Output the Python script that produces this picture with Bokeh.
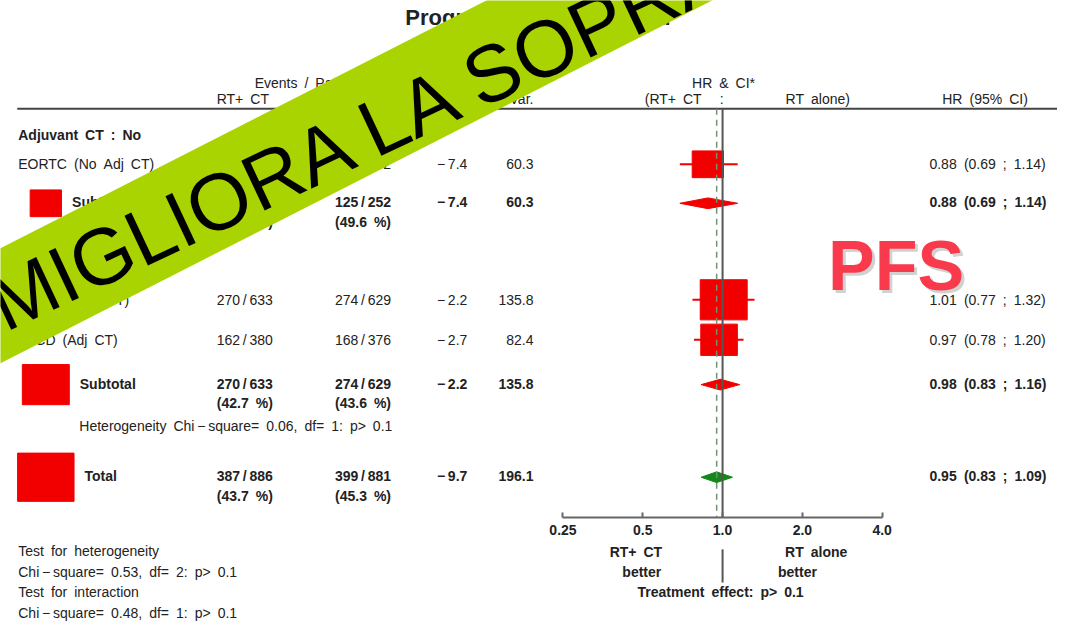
import math
from bokeh.plotting import figure
from bokeh.models import (ColumnDataSource, Range1d, LogScale, LogAxis, FixedTicker,
                          CustomJSTickFormatter)
from bokeh.core.properties import value
from bokeh.embed import file_html
from bokeh.resources import INLINE

# ---------------- data ----------------
title = "Progression-free survival"
group_labels = ["Adjuvant CT : No", "Adjuvant CT : Yes"]
row_labels = ["EORTC (No Adj CT)", "Subtotal", "EORTC (Adj CT)", "FFCD (Adj CT)", "Subtotal", "Total"]
row_kind = ["trial", "sub", "trial", "trial", "sub", "total"]
events_ct = [117, 117, 270, 162, 270, 387]
patients_ct = [253, 253, 633, 380, 633, 886]
events_rt = [125, 125, 274, 168, 274, 399]
patients_rt = [252, 252, 629, 376, 629, 881]
o_minus_e = [-7.4, -7.4, -2.2, -2.7, -2.2, -9.7]
variance = [60.3, 60.3, 135.8, 82.4, 135.8, 196.1]
hr = [0.88, 0.88, 1.01, 0.97, 0.98, 0.95]
ci_low = [0.69, 0.69, 0.77, 0.78, 0.83, 0.83]
ci_high = [1.14, 1.14, 1.32, 1.20, 1.16, 1.09]
hr_ticks = [0.25, 0.5, 1.0, 2.0, 4.0]
col_headers = ["Events / Patients", "RT+ CT", "RT alone", "O\u2212E", "Var."]
forest_headers = ["HR & CI*", "(RT+ CT", ":", "RT alone)", "HR (95% CI)"]
heterogeneity_sub = "Heterogeneity Chi\u2009\u2212\u2009square= 0.06, df= 1: p> 0.1"
footer_lines = ["Test for heterogeneity", "Chi\u2009\u2212\u2009square= 0.53, df= 2: p> 0.1",
                "Test for interaction", "Chi\u2009\u2212\u2009square= 0.48, df= 1: p> 0.1"]
better_left = ["RT+ CT", "better"]
better_right = ["RT alone", "better"]
treatment_effect = "Treatment effect: p> 0.1"
banner_text = "MIGLIORA LA SOPRAVVIVENZA"
stamp_text = "PFS"

# ---------------- layout (reference pixel space) ----------------
W_REF, H_REF = 1073, 638
FONT = "Liberation Sans"
FS = "14px"
TXT = "#222222"
RED = "#f20000"
GREEN = "#15861a"
ROW_Y = [168, 207, 307, 348, 393, 488]
GROUP_Y = [138, 277]
PCT_DY = 20
X_LABEL, X_CT, X_RT, X_OE, X_VAR, X_HR, X_CI = 18, 248, 368, 443, 541, 943, 978
HR1_X, PX_PER_DOUBLING = 733, 81.0
HEADER_Y1, HEADER_Y2, LINE_Y, AXIS_Y = 85, 101, 111, 530
SQ_X = 46

p = figure(width=1057, height=622, x_range=Range1d(0, W_REF), y_range=Range1d(H_REF, 0),
           x_axis_location=None, y_axis_location=None, output_backend="svg",
           toolbar_location=None, min_border=0, outline_line_color=None,
           background_fill_color="white", border_fill_color="white")
p.grid.grid_line_color = None

p.extra_x_ranges = {"hr": Range1d(2 ** ((0 - HR1_X) / PX_PER_DOUBLING),
                                  2 ** ((W_REF - HR1_X) / PX_PER_DOUBLING))}
p.extra_x_scales = {"hr": LogScale()}


def wide(s):
    # the reference typesetting uses wide word spaces
    return s.replace(" ", "\u2002")


def add_text(xs, ys, texts, align="left", bold=False, size=FS, color=TXT,
             baseline="middle", angle=0.0, alpha=1.0, font=FONT):
    src = ColumnDataSource(dict(x=list(xs), y=list(ys), text=list(texts)))
    p.text("x", "y", "text", source=src, text_align=align, text_baseline=baseline,
           text_font=value(font), text_font_size=size,
           text_font_style="bold" if bold else "normal", text_color=color,
           text_alpha=alpha, angle=angle)


# title
add_text([411], [17], [title], bold=True, size="22px")

# column headers
add_text([258], [HEADER_Y1], [wide(col_headers[0])])
add_text([X_CT - 2, X_RT], [HEADER_Y2] * 2, [wide(t) for t in col_headers[1:3]], align="center")
add_text([458], [HEADER_Y2], [col_headers[3]], align="center")
add_text([X_VAR], [HEADER_Y2], [col_headers[4]], align="right")
add_text([734], [HEADER_Y1], [wide(forest_headers[0])], align="center")
add_text([654], [HEADER_Y2], [wide(forest_headers[1])])
add_text([732], [HEADER_Y2], [forest_headers[2]], align="center")
add_text([797], [HEADER_Y2], [wide(forest_headers[3])])
add_text([956], [HEADER_Y2], [wide(forest_headers[4])])
p.segment(x0=[17], x1=[W_REF], y0=[LINE_Y], y1=[LINE_Y], line_color="#444444", line_width=2)

# group headers
add_text([X_LABEL] * 2, GROUP_Y, [wide(g) for g in group_labels], bold=True)

# rows
sq_w = [4.03 * math.sqrt(v) for v in variance]
sq_h = [w / 1.17 for w in sq_w]
for i, kind in enumerate(row_kind):
    y = ROW_Y[i]
    bold = kind != "trial"
    if kind == "trial":
        add_text([X_LABEL], [y], [wide(row_labels[i])])
    else:
        add_text([SQ_X + sq_w[i] / 2 + 11], [y], [row_labels[i]], bold=True)
        add_text([X_CT, X_RT], [y + PCT_DY] * 2,
                 [f"({100 * events_ct[i] / patients_ct[i]:.1f}\u2002%)",
                  f"({100 * events_rt[i] / patients_rt[i]:.1f}\u2002%)"], align="center", bold=True)
    add_text([X_CT, X_RT], [y, y],
             [f"{events_ct[i]}\u2009/\u2009{patients_ct[i]}",
              f"{events_rt[i]}\u2009/\u2009{patients_rt[i]}"],
             align="center", bold=bold)
    add_text([X_OE], [y], [f"{o_minus_e[i]:.1f}".replace("-", "\u2212\u2009")], bold=bold)
    add_text([X_VAR], [y], [f"{variance[i]:.1f}"], align="right", bold=bold)
    add_text([X_HR], [y], [f"{hr[i]:.2f}"], bold=bold)
    add_text([X_CI], [y], [wide(f"({ci_low[i]:.2f} ; {ci_high[i]:.2f})")], bold=bold)

add_text([80], [ROW_Y[4] + 43], [wide(heterogeneity_sub)])

# left-hand weight squares for subtotal/total rows
idx_sum = [i for i, k in enumerate(row_kind) if k != "trial"]
p.rect(x=[SQ_X] * len(idx_sum), y=[ROW_Y[i] + 1 for i in idx_sum],
       width=[sq_w[i] for i in idx_sum], height=[sq_h[i] for i in idx_sum],
       width_units="screen", height_units="screen", fill_color=RED, line_color=RED)

# forest: trial CIs and squares
idx_tr = [i for i, k in enumerate(row_kind) if k == "trial"]
p.segment(x0=[ci_low[i] for i in idx_tr], x1=[ci_high[i] for i in idx_tr],
          y0=[ROW_Y[i] for i in idx_tr], y1=[ROW_Y[i] for i in idx_tr],
          line_color=RED, line_width=2, x_range_name="hr")
p.rect(x=[hr[i] for i in idx_tr], y=[ROW_Y[i] for i in idx_tr],
       width=[sq_w[i] for i in idx_tr], height=[sq_h[i] for i in idx_tr],
       width_units="screen", height_units="screen", fill_color=RED, line_color=RED,
       x_range_name="hr")

# diamonds
for i in idx_sum:
    y = ROW_Y[i] + 1
    col = GREEN if row_kind[i] == "total" else RED
    p.patch(x=[ci_low[i], hr[i], ci_high[i], hr[i]], y=[y, y - 5.5, y, y + 5.5],
            fill_color=col, line_color=col, x_range_name="hr")

# reference lines
p.segment(x0=[1.0], x1=[1.0], y0=[LINE_Y], y1=[AXIS_Y], line_color="#555555",
          line_width=2, x_range_name="hr")
p.segment(x0=[hr[-1]], x1=[hr[-1]], y0=[LINE_Y], y1=[AXIS_Y], line_color="#6f9475",
          line_width=1.5, line_dash="6 5", x_range_name="hr")

# HR axis
ax = LogAxis(x_range_name="hr", fixed_location=AXIS_Y, bounds=(hr_ticks[0], hr_ticks[-1]),
             ticker=FixedTicker(ticks=hr_ticks, minor_ticks=[]),
             formatter=CustomJSTickFormatter(code="return tick < 0.3 ? tick.toFixed(2) : tick.toFixed(1);"))
ax.axis_line_color = "#666666"
ax.axis_line_width = 2
ax.major_tick_in = 5
ax.major_tick_out = 0
ax.major_tick_line_color = "#666666"
ax.major_tick_line_width = 2
ax.minor_tick_line_color = None
ax.major_label_text_font = FONT
ax.major_label_text_font_size = FS
ax.major_label_text_font_style = "bold"
ax.major_label_text_color = TXT
ax.major_label_standoff = 8
p.add_layout(ax, "below")

# below axis annotations
add_text([645, 651], [566, 586], [wide(t) for t in better_left], align="center", bold=True)
add_text([828, 809], [566, 586], [wide(t) for t in better_right], align="center", bold=True)
p.segment(x0=[1.0], x1=[1.0], y0=[563], y1=[597], line_color="#555555", line_width=2,
          x_range_name="hr")
add_text([731], [607], [wide(treatment_effect)], align="center", bold=True)

# footer
add_text([X_LABEL] * 4, [565, 586, 607, 628], [wide(t) for t in footer_lines])

# banner overlay
slope = 0.515


def yc(x):
    return 313 - slope * x


half = 59
bx = [-60, 960, 960, -60]
by = [yc(-60) - half, yc(960) - half, yc(960) + half, yc(-60) + half]
p.patch(bx, by, fill_color="#a9d301", line_color=None)
text_angle = math.atan(0.47)
add_text([-7], [315], [banner_text], size="80px", color="black",
         baseline="middle", angle=text_angle)

# PFS stamp
add_text([843], [275.5], [stamp_text], bold=True, size="70px", color="#7a7a7a",
         alpha=0.35)
add_text([840], [272.5], [stamp_text], bold=True, size="70px", color="#f83a4c")

open("out.html", "w").write(file_html(p, INLINE))
